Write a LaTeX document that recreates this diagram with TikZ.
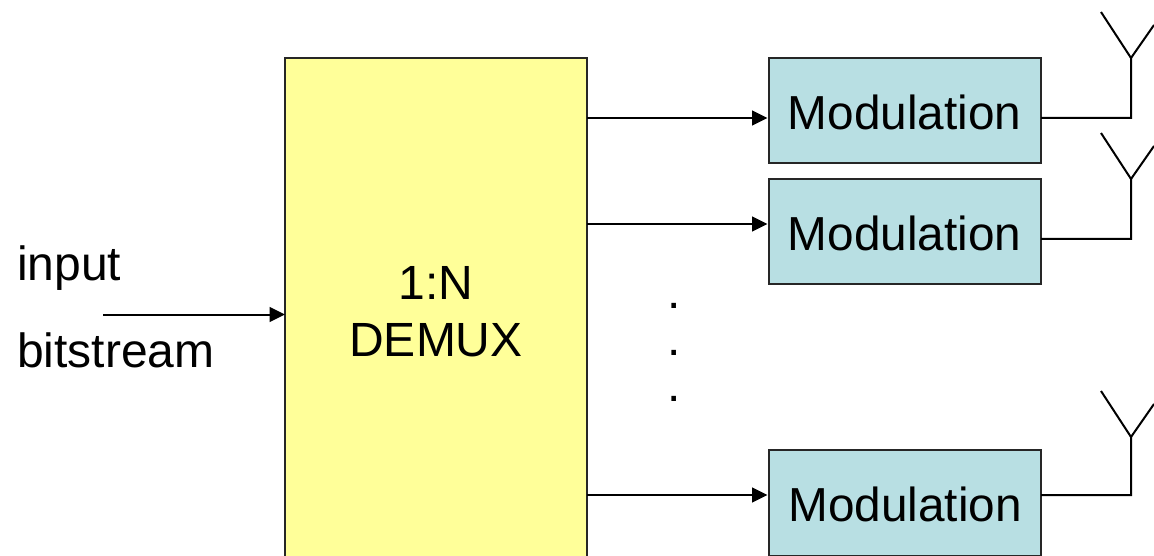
\documentclass[tikz,border=0pt]{standalone}
\usepackage{fontspec}
\setmainfont{Liberation Sans}
\usetikzlibrary{arrows.meta}
\definecolor{demuxfill}{RGB}{255,255,153}
\definecolor{modfill}{RGB}{184,223,227}
\tikzset{x=0.75pt,y=-0.75pt,
 wire/.style={draw=black,line width=1.5pt},
 arrow/.style={wire,-{Triangle[length=11.5pt,width=11pt]}},
 modbox/.style={draw=black!85,line width=1.5pt,fill=modfill,minimum width=204pt,minimum height=79pt,inner sep=0pt,font=\fontsize{35.8}{36}\selectfont},
 lab/.style={inner sep=0pt,anchor=base west,font=\fontsize{36}{36}\selectfont}}
\begin{document}
\begin{tikzpicture}
\useasboundingbox (0,0) rectangle (1154,556);
\begin{scope}
\clip (0,0) rectangle (1154,556);
\fill[demuxfill,draw=black!85,line width=1.5pt] (285,58) rectangle (587,580);
\end{scope}
\coordinate (dw) at (285,314.5);
\node[lab] (t1) at (17,281) {input};
\node[lab] (t2) at (17,367.5) {bitstream};
\coordinate (inS) at (103,314.5);
\draw[arrow] (inS) -- (dw);
\node[inner sep=0pt,align=center,font=\fontsize{36}{43}\selectfont] (dem) at (436,312) {1:N\\DEMUX};
\node[modbox] (m1) at (904.5,110.5) {\raisebox{-14.6pt}[0pt][0pt]{Modulation}};
\node[modbox] (m2) at (904.5,231.5) {\raisebox{-14.6pt}[0pt][0pt]{Modulation}};
\node[modbox] (m3) at (904.5,503) {\kern1pt\raisebox{-14pt}[0pt][0pt]{Modulation}};
\coordinate (o1) at (587,118);
\coordinate (o2) at (587,224);
\coordinate (o3) at (587,495);
\draw[arrow] (o1) -- (o1-|m1.west);
\draw[arrow] (o2) -- (o2-|m2.west);
\draw[arrow] (o3) -- (o3-|m3.west);
\foreach \n/\y/\t in {m1/118/58,m2/239/179,m3/495/437}{
 \coordinate (a\n) at (1131,\t);
 \coordinate (b\n) at (1041,\y);
 \draw[wire,line join=miter] (b\n) -- (1131,\y) -- (a\n) -- (1101,\t-46);
 \draw[wire] (a\n) -- (1154,\t-33);
}
\node[inner sep=0pt,font=\fontsize{36}{36}\selectfont] (d1) at (674,306) {.};
\node[inner sep=0pt,font=\fontsize{36}{36}\selectfont] (d2) at (674,353) {.};
\node[inner sep=0pt,font=\fontsize{36}{36}\selectfont] (d3) at (674,399) {.};
\end{tikzpicture}
\end{document}
